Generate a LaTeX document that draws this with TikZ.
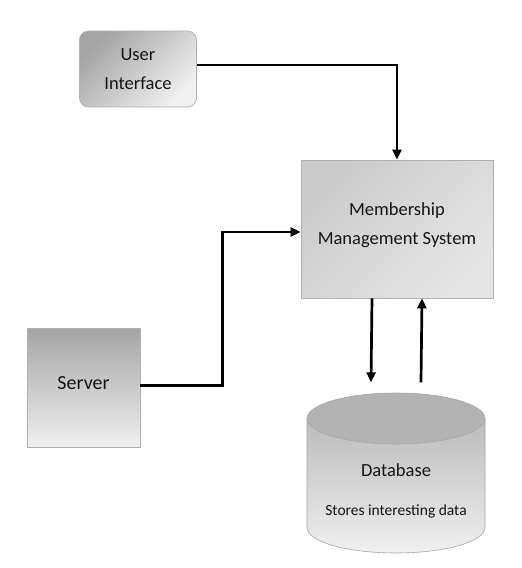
\documentclass[tikz,border=0pt]{standalone}
\usepackage{fontspec}
\setmainfont{Carlito}
\usetikzlibrary{shapes.geometric,arrows.meta}

\definecolor{boxdark}{HTML}{A4A4A4}
\definecolor{boxmid}{HTML}{CBCBCB}
\definecolor{boxlight}{HTML}{F0F0F0}
\definecolor{edgegray}{HTML}{B0B0B0}
\definecolor{textgray}{HTML}{151515}

\begin{document}
\begin{tikzpicture}[x=1pt, y=-1pt, font=\fontsize{18.5}{29}\selectfont, text=textgray,
    box/.style={draw=edgegray, line width=0.7pt, align=center, inner sep=0pt},
    flow/.style={line width=2.7pt, -{Triangle[length=10pt,width=9pt]}}]

    % Page
    \useasboundingbox[fill=white] (0,0) rectangle (522,568);

    % Blocks
    \node[box, rounded corners=9pt, minimum width=117pt, minimum height=76pt,
          top color=boxdark, bottom color=boxlight, shading angle=45] (UserInterface) at (138,69) {\raisebox{-1pt}{\shortstack{User\\[13pt]Interface}}};
    \node[box, minimum width=192pt, minimum height=138pt,
          top color=boxmid, bottom color=boxlight!70!boxmid, shading angle=45] (Membership) at (397,229) {\raisebox{10pt}{\shortstack{Membership\\[11pt]Management System}}};
    \node[box, minimum width=113pt, minimum height=119pt,
          top color=boxdark, bottom color=boxlight, font=\fontsize{20}{24}\selectfont] (Server) at (83.5,387.5) {\raisebox{8pt}{Server}};

    % Database cylinder: shaded body, darker lid
    \shade[top color=boxmid!92!black, bottom color=boxlight, draw=gray!70, line width=0.6pt]
        (307,418.5) -- (307,527.5) arc[start angle=180, end angle=0, x radius=89, y radius=25.5] -- (485,418.5) -- cycle;
    \filldraw[fill=boxmid!88!black, draw=gray!70, line width=0.6pt] (396,418.5) ellipse (89 and 25.5);
    \node[cylinder, shape border rotate=90, aspect=0.58, inner sep=0pt, minimum width=178pt, minimum height=160pt,
          align=center, anchor=shape center] (Database) at (396,473)
          {\raisebox{8pt}{\shortstack{Database\\[25pt]{\fontsize{15.5}{18}\selectfont Stores interesting data}}}};

    % Connectors
    \draw[flow] ([yshift=4pt]UserInterface.east) -| (Membership.north);
    \draw[flow] ([yshift=2pt]Server.east) -- ++(82,0) |- ([yshift=-3pt]Membership.west);
    \draw[flow] ([xshift=-25pt]Membership.south) -- ([xshift=-25pt,yshift=-1pt]Database.top);
    \draw[flow] ([xshift=25pt,yshift=-1pt]Database.top) -- ([xshift=25pt]Membership.south);

\end{tikzpicture}
\end{document}
